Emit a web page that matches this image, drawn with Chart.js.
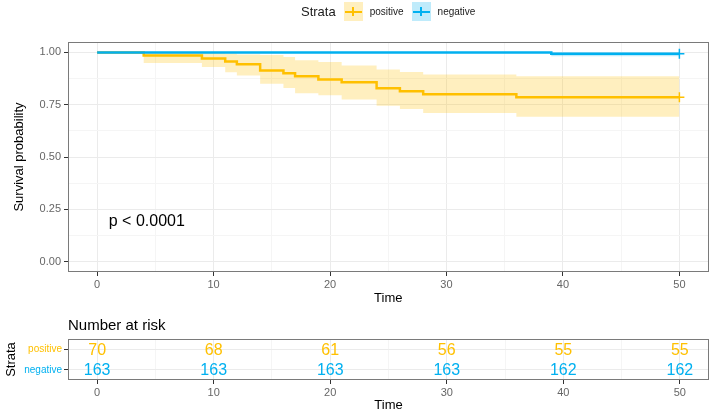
<!DOCTYPE html>
<html>
<head>
<meta charset="utf-8">
<script src="https://cdn.jsdelivr.net/npm/chart.js@4.4.1/dist/chart.umd.min.js"></script>
<style>
body { margin: 0; background: #fff; font-family: "Liberation Sans", Arial, sans-serif; }
#wrap { position: relative; width: 715px; height: 413px; overflow: hidden; }
#main { position: absolute; left: 0; top: 0; }
#risk { position: absolute; left: 0; top: 310px; }
#legend { position: absolute; top: 2px; left: 301px; height: 19px; display: flex; align-items: center; }
#legend .title { font-size: 13px; color: #1a1a1a; margin-right: 8px; }
#legend .key { position: relative; width: 19px; height: 19px; margin-right: 7px; }
#legend .key .h { position: absolute; left: 1px; right: 1px; top: 8.5px; height: 2px; }
#legend .key .v { position: absolute; left: 8.5px; top: 5px; width: 2px; height: 9px; }
#legend .lab { font-size: 10px; color: #1a1a1a; margin-right: 8px; }
</style>
</head>
<body>
<div id="wrap">
  <canvas id="main" width="715" height="310"></canvas>
  <canvas id="risk" width="715" height="103"></canvas>
  <div id="legend"></div>
</div>
<script>
const strata = ["positive", "negative"];
const colors = ["#FFC000", "#00B0F0"];
const bandColors = ["rgba(255,192,0,0.25)", "rgba(0,176,240,0.25)"];

// Kaplan-Meier steps
const posTime  = [0, 4, 9, 11, 12, 14, 16, 17, 19, 21, 24, 26, 28, 36, 50];
const posSurv  = [1, 0.986, 0.971, 0.957, 0.943, 0.914, 0.900, 0.886, 0.871, 0.857, 0.829, 0.814, 0.800, 0.786, 0.786];
const posLower = [1, 0.950, 0.930, 0.905, 0.890, 0.850, 0.830, 0.805, 0.795, 0.775, 0.745, 0.730, 0.710, 0.693, 0.693];
const posUpper = [1, 1, 1, 0.995, 0.990, 0.988, 0.978, 0.963, 0.954, 0.938, 0.918, 0.906, 0.895, 0.886, 0.886];

const negTime  = [0, 39, 50];
const negSurv  = [1, 0.994, 0.994];
const negLower = [1, 0.982, 0.982];
const negUpper = [1, 1, 1];

const riskTimes    = [0, 10, 20, 30, 40, 50];
const riskPositive = [70, 68, 61, 56, 55, 55];
const riskNegative = [163, 163, 163, 163, 162, 162];

const timeTicks = [0, 5, 10, 15, 20, 25, 30, 35, 40, 45, 50];
const probTicks = [0, 0.125, 0.25, 0.375, 0.5, 0.625, 0.75, 0.875, 1];
const pvalText = "p < 0.0001";
const pvalAt = { x: 1.0, y: 0.2 };

const FONT = "'Liberation Sans', Arial, sans-serif";
Chart.defaults.font.family = FONT;

const pts = (xs, ys) => xs.map((x, i) => ({ x: x, y: ys[i] }));
const majorTime = v => v % 10 === 0;
const majorProb = v => Math.round(v * 8) % 2 === 0;

// legend
const legend = document.getElementById("legend");
legend.innerHTML = '<span class="title">Strata</span>' + strata.map((s, i) =>
  '<span class="key" style="background:' + bandColors[i] + '">' +
  '<span class="h" style="background:' + colors[i] + '"></span>' +
  '<span class="v" style="background:' + colors[i] + '"></span></span>' +
  '<span class="lab">' + s + '</span>').join("");

const panelBorder = {
  id: "panelBorder",
  afterDraw(chart) {
    const a = chart.chartArea, ctx = chart.ctx;
    ctx.save();
    ctx.strokeStyle = "#7a7a7a";
    ctx.lineWidth = 1;
    ctx.strokeRect(Math.round(a.left) + 0.5, Math.round(a.top) + 0.5,
      Math.round(a.right - a.left) - 1, Math.round(a.bottom - a.top) - 1);
    ctx.restore();
  }
};

const pvalLabel = {
  id: "pvalLabel",
  afterDatasetsDraw(chart) {
    const ctx = chart.ctx;
    ctx.save();
    ctx.font = "16px " + FONT;
    ctx.fillStyle = "#000";
    ctx.textBaseline = "middle";
    ctx.fillText(pvalText, chart.scales.x.getPixelForValue(pvalAt.x), chart.scales.y.getPixelForValue(pvalAt.y) + 2);
    ctx.restore();
  }
};

function lineSet(label, xs, ys, color, order) {
  return {
    label: label, data: pts(xs, ys), borderColor: color, backgroundColor: color,
    borderWidth: 2.5, stepped: true, fill: false, order: order,
    pointStyle: "cross", pointBorderWidth: 1.5,
    pointRadius: ctx => ctx.dataIndex === xs.length - 1 ? 5 : 0,
    pointHoverRadius: 0
  };
}
function bandSet(label, xs, lo, hi, color, order) {
  return [
    { label: label + " lower", data: pts(xs, lo), borderWidth: 0, pointRadius: 0, stepped: true, fill: false, order: order },
    { label: label + " upper", data: pts(xs, hi), borderWidth: 0, pointRadius: 0, stepped: true, fill: "-1", backgroundColor: color, order: order }
  ];
}

const timeScale = (boxHeight, titleBottom) => ({
  type: "linear", min: -2.5, max: 52.5,
  afterBuildTicks: s => { s.ticks = timeTicks.map(v => ({ value: v })); },
  afterFit: s => { s.height = boxHeight; },
  ticks: {
    autoSkip: false, maxRotation: 0, padding: 2, color: "#666", font: { size: 11 },
    callback: v => majorTime(v) ? String(v) : ""
  },
  grid: {
    color: c => majorTime(c.tick.value) ? "#ebebeb" : "#f5f5f5",
    tickColor: c => majorTime(c.tick.value) ? "#333" : "rgba(0,0,0,0)",
    tickLength: 4, lineWidth: 1
  },
  border: { display: false },
  title: { display: true, text: "Time", color: "#000", font: { size: 13 }, padding: { top: 0, bottom: titleBottom } }
});

new Chart(document.getElementById("main"), {
  type: "line",
  data: {
    datasets: [
      lineSet(strata[1], negTime, negSurv, colors[1], 0),
      lineSet(strata[0], posTime, posSurv, colors[0], 1),
      ...bandSet(strata[1], negTime, negLower, negUpper, bandColors[1], 2),
      ...bandSet(strata[0], posTime, posLower, posUpper, bandColors[0], 3)
    ]
  },
  options: {
    responsive: false, animation: false, events: [],
    layout: { padding: { top: 42, right: 6, left: 0, bottom: 0 } },
    plugins: { legend: { display: false }, tooltip: { enabled: false } },
    scales: {
      x: timeScale(38, 4),
      y: {
        type: "linear", min: -0.05, max: 1.05,
        afterBuildTicks: s => { s.ticks = probTicks.map(v => ({ value: v })); },
        afterFit: s => { s.width = 68; },
        ticks: {
          autoSkip: false, padding: 3, color: "#666", font: { size: 11 },
          callback: v => majorProb(v) ? v.toFixed(2) : ""
        },
        grid: {
          color: c => majorProb(c.tick.value) ? "#ebebeb" : "#f5f5f5",
          tickColor: c => majorProb(c.tick.value) ? "#333" : "rgba(0,0,0,0)",
          tickLength: 4
        },
        border: { display: false },
        title: { display: true, text: "Survival probability", color: "#000", font: { size: 13 }, padding: { top: 12, bottom: 0 } }
      }
    }
  },
  plugins: [panelBorder, pvalLabel]
});

// risk table
const riskText = {
  id: "riskText",
  afterDatasetsDraw(chart) {
    const ctx = chart.ctx;
    ctx.save();
    ctx.font = "16px " + FONT;
    ctx.textAlign = "center";
    ctx.textBaseline = "middle";
    chart.data.datasets.forEach((ds, di) => {
      ctx.fillStyle = colors[di];
      chart.getDatasetMeta(di).data.forEach((el, i) => {
        ctx.fillText(String(ds.counts[i]), el.x, el.y + 1);
      });
    });
    ctx.font = "15px " + FONT;
    ctx.fillStyle = "#000";
    ctx.textAlign = "left";
    ctx.fillText("Number at risk", chart.chartArea.left, chart.chartArea.top - 13);
    ctx.restore();
  }
};

new Chart(document.getElementById("risk"), {
  type: "scatter",
  data: {
    datasets: [
      { label: strata[0], counts: riskPositive, data: riskTimes.map(t => ({ x: t, y: strata[0] })), pointRadius: 0 },
      { label: strata[1], counts: riskNegative, data: riskTimes.map(t => ({ x: t, y: strata[1] })), pointRadius: 0 }
    ]
  },
  options: {
    responsive: false, animation: false, events: [],
    layout: { padding: { top: 29, right: 6, left: 0, bottom: 0 } },
    plugins: { legend: { display: false }, tooltip: { enabled: false } },
    scales: {
      x: timeScale(33, 0),
      y: {
        type: "category", labels: strata, offset: true,
        afterFit: s => { s.width = 68; },
        ticks: { padding: 2, color: c => colors[c.index], font: { size: 10 } },
        grid: { color: "#ebebeb", tickColor: "#333", tickLength: 4, offset: false },
        border: { display: false },
        title: { display: true, text: "Strata", color: "#000", font: { size: 13 }, padding: { top: 4, bottom: 0 } }
      }
    }
  },
  plugins: [panelBorder, riskText]
});
</script>
</body>
</html>
